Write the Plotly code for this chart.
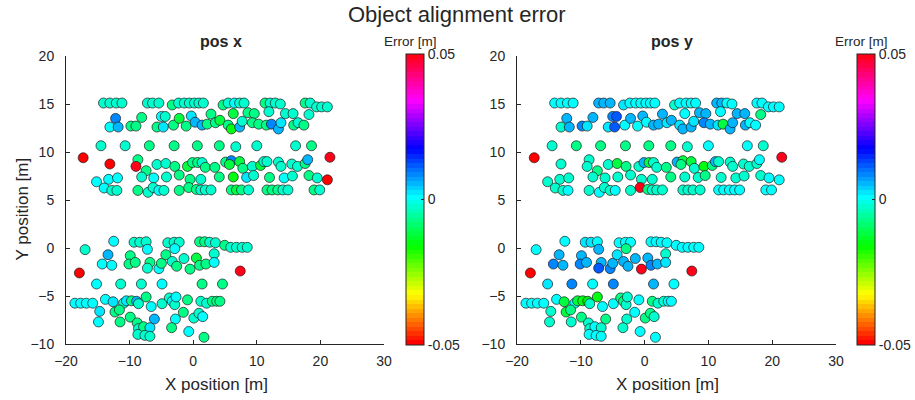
import colorsys
import plotly.graph_objects as go

# ---------------- data (metres) ----------------
# upper group of objects
x_upper = [
    -14.1, -13.1, -12.1, -11.2, -7.2, -6.4, -5.4, -3.3, -2.3, -1.4, -0.6, 0.2, 0.9, 1.6,
    4.7, 5.5, 6.5, 7.3, 8.0, 11.3, 12.1, 12.9, 13.7, 17.6, 18.4, 19.4, 20.2, 21.1,
    -12.2, -13.1, -11.8, -8.1, -9.8, -9.0, -5.7, -5.0, -4.4, -4.7, -3.1, -2.2, -1.1, -0.3,
    0.3, 1.4, 2.2, 2.8, 3.5, 4.2, 5.5, 6.0, 6.3, 7.3, 7.7, 8.6, 9.6, 9.3, 10.3, 11.5, 11.9,
    12.3, 13.4, 13.8, 14.5, 15.7, 15.8, 16.5, 17.4, 18.2,
    -14.5, -10.7, -6.9, -3.0, 0.65, 4.1, 6.7, 10.0, 16.1, 18.6, -17.3, 21.5,
    -13.1, -8.7, -9.0, -7.4, -5.7, -4.3, -2.9, -2.2, -0.9, -0.1, 0.7, 1.4, 1.9, 3.4, 5.1,
    6.0, 5.7, 7.3, 7.8, 9.3, 10.6, 11.1, 11.6, 13.4, 13.8, 15.5, 16.4, 17.6, 18.0,
    -15.2, -13.3, -11.9, -14.0, -12.8, -12.0, -8.1, -6.2, -4.2, -8.7, -7.1, -6.3, -5.4,
    -4.6, -2.2, -0.5, -0.7, 0.5, 1.2, 4.1, 6.3, 8.4, 9.5, 12.0, 14.3, 15.6, 18.2, 19.5, 21.1,
    1.2, 1.9, 2.8, 6.0, 6.8, 7.6, 8.7, 11.6, 12.4, 13.3, 14.1, 14.9, 19.0, 19.9,
]
y_upper = [
    15.1, 15.1, 15.1, 15.1, 15.1, 15.1, 15.1, 14.9, 15.1, 15.1, 15.1, 15.1, 15.1, 15.1,
    14.9, 15.1, 15.1, 15.1, 15.1, 15.1, 15.1, 15.1, 15.0, 15.1, 15.1, 14.7, 14.7, 14.7,
    13.5, 12.6, 12.6, 13.6, 12.7, 12.7, 12.6, 13.7, 13.7, 12.6, 12.8, 13.5, 12.7, 13.75,
    13.1, 12.8, 12.9, 13.95, 13.05, 13.3, 12.8, 12.4, 14.0, 12.6, 13.2, 14.1, 14.0, 13.05, 12.9, 12.8, 14.2,
    12.9, 12.4, 13.05, 14.0, 14.0, 12.8, 13.05, 12.8, 13.9,
    10.65, 10.65, 10.65, 10.65, 10.65, 10.65, 10.55, 10.65, 10.65, 10.65, 9.4, 9.45,
    8.75, 9.2, 8.5, 8.05, 8.7, 8.8, 8.5, 7.6, 8.5, 8.9, 8.9, 8.9, 8.4, 8.4, 8.95,
    9.1, 8.7, 9.0, 8.3, 8.5, 8.6, 9.0, 9.0, 8.95, 8.5, 8.75, 8.5, 8.8, 9.2,
    6.9, 7.15, 7.3, 6.25, 6.0, 6.0, 7.4, 7.3, 7.4, 6.0, 5.8, 6.3, 6.0,
    6.0, 6.0, 7.15, 6.3, 6.1, 7.15, 7.4, 7.4, 7.35, 7.55, 7.35, 7.3, 7.5, 7.55, 7.3, 7.1,
    6.05, 6.05, 6.05, 6.05, 6.05, 6.05, 6.05, 6.05, 6.05, 6.05, 6.05, 6.05, 6.05, 6.05,
]
err_x_upper = [
    -0.003, -0.003, -0.003, -0.003, -0.003, -0.003, -0.003, -0.007, -0.003, -0.003, -0.003, -0.003, -0.003, -0.003,
    -0.007, -0.003, 0.0, -0.003, -0.003, -0.007, -0.003, -0.003, -0.003, -0.007, -0.003, -0.003, -0.003, -0.003,
    0.008, 0.0, 0.0055, -0.007, -0.007, -0.007, -0.007, 0.0, -0.003, 0.002, -0.007, -0.011, -0.007, 0.002,
    0.0055, 0.0055, -0.007, -0.007, -0.007, -0.011, -0.007, -0.015, -0.011, 0.0055, -0.003, -0.007, -0.007, -0.007, -0.007, -0.007, -0.003,
    0.008, 0.0055, 0.002, -0.003, -0.003, -0.007, -0.003, -0.007, -0.003,
    -0.003, -0.003, -0.007, -0.007, -0.007, -0.007, -0.003, -0.003, -0.003, -0.007, -0.07, 0.07,
    -0.07, -0.007, 0.07, -0.007, -0.003, -0.003, -0.007, -0.007, -0.011, -0.007, -0.007, -0.003, -0.007, -0.007, -0.007,
    0.008, -0.011, -0.011, -0.007, -0.003, -0.011, -0.003, -0.003, -0.003, -0.003, -0.003, -0.003, -0.007, 0.0055,
    0.0, 0.0, 0.0, 0.0, -0.003, -0.003, -0.003, 0.0, -0.003, -0.007, -0.003, -0.003, 0.0,
    -0.003, -0.007, -0.007, -0.007, -0.007, -0.003, -0.007, -0.015, 0.002, -0.003, -0.007, 0.0, -0.003, -0.007, -0.003, -0.07,
    -0.003, -0.003, -0.003, -0.007, -0.011, -0.007, -0.003, -0.007, -0.007, -0.007, -0.003, -0.003, -0.007, -0.003,
]
err_y_upper = [
    0.0, 0.0, 0.0, 0.0, 0.0055, 0.0055, 0.0055, 0.002, 0.0, 0.0, 0.0, 0.0, 0.0, 0.0,
    -0.003, 0.0, 0.0, 0.0, 0.0, 0.0055, 0.0055, 0.0, 0.0, 0.0, 0.0, 0.0, 0.0, 0.0,
    0.0055, -0.003, 0.0055, 0.0055, 0.008, 0.002, 0.002, 0.008, 0.0115, 0.0115, 0.0, 0.0055, 0.0, 0.0055,
    0.0, 0.0055, 0.0055, 0.0055, 0.002, 0.0055, 0.002, 0.0055, 0.0, 0.0055, 0.002, 0.0055, 0.0055, 0.008, 0.0055, 0.002, 0.0,
    -0.011, 0.0055, 0.0055, 0.0055, 0.0055, 0.0055, 0.0, 0.0, -0.007,
    -0.003, -0.007, -0.007, -0.007, -0.007, -0.007, -0.003, 0.0, 0.0, -0.003, -0.07, 0.07,
    -0.003, -0.003, -0.003, -0.007, -0.003, -0.011, -0.007, -0.003, -0.003, 0.0055, -0.011, -0.003, -0.003, -0.007, 0.0055,
    -0.011, -0.007, -0.011, -0.003, -0.015, -0.007, 0.0055, -0.003, -0.003, -0.003, -0.003, -0.003, -0.003, 0.0,
    -0.003, -0.003, -0.003, -0.003, -0.003, 0.0, -0.003, -0.003, -0.003, -0.003, 0.0, -0.003, -0.003,
    0.0, -0.003, -0.003, 0.07, -0.007, -0.003, -0.007, -0.003, -0.003, -0.007, -0.003, -0.003, -0.003, -0.003, 0.0, 0.0,
    -0.003, -0.003, -0.003, -0.003, -0.003, -0.003, -0.003, 0.0, 0.0, 0.0, 0.0, 0.0, 0.0, 0.0,
]

# lower group of objects
x_lower = [
    -17.0, -12.5, -9.3, -8.4, -7.4, -7.2, -4.0, -3.0, -2.2, -2.9, 1.0, 1.8, 2.6, 3.5, 4.95, 5.9, 6.8, 7.7, 8.5, 3.3,
    -13.4, -14.3, -12.8, -9.9, -10.1, -9.1, -6.8, -7.2, -5.4, -5.0, -4.3, -3.3, -2.6, -1.45, -0.5, 0.5, 1.0, 2.0, 3.3, -17.9, 7.4,
    -15.2, -11.4, -8.15, -4.9, 1.4, 4.6,
    -18.6, -17.7, -16.8, -15.8, -13.8, -12.6, -10.95, -10.5, -9.7, -8.9, -7.4, -8.6, -4.9, -3.75, -3.3, -2.9, -2.7, -0.9, 1.2, 2.1, 3.0, 3.7, 4.2,
    -14.7, -12.3, -11.6, -6.6, -14.9, -11.5, -9.9, -8.8, -6.1, -2.8, -1.55, 0.1, 0.9, 1.5, -8.6, -7.8, -6.8, -8.7, -7.6, -6.8, -3.4, -0.7, 1.7,
]
y_lower = [
    -0.17, 0.7, 0.6, 0.6, 0.65, -0.14, 0.55, 0.6, 0.6, -0.07, 0.65, 0.65, 0.6, 0.55, 0.28, 0.07, 0.07, 0.07, 0.07, -0.6,
    -0.7, -1.67, -1.8, -0.8, -1.67, -1.5, -1.5, -2.1, -2.15, -1.6, -0.7, -1.4, -1.9, -1.1, -2.2, -1.04, -1.8, -1.67, -1.5, -2.6, -2.4,
    -3.75, -3.75, -3.75, -3.75, -3.75, -3.75,
    -5.75, -5.75, -5.75, -5.75, -5.35, -5.6, -5.75, -5.5, -5.5, -5.55, -5.1, -5.8, -5.8, -5.2, -5.55, -5.9, -5.1, -5.4, -5.55, -5.75, -5.55, -5.55, -5.55,
    -6.6, -6.67, -6.45, -6.1, -7.7, -7.7, -7.2, -7.8, -7.4, -7.4, -6.7, -7.3, -6.8, -7.15, -8.4, -8.2, -8.3, -9.0, -9.1, -9.2, -8.3, -8.7, -9.3,
]
err_x_lower = [
    -0.003, 0.0, -0.003, -0.003, -0.003, 0.0, -0.003, -0.003, -0.003, 0.0, -0.007, -0.007, -0.003, -0.003, -0.007, -0.003, -0.003, -0.003, -0.003, -0.003,
    0.0055, 0.0, 0.0, -0.007, -0.007, -0.007, -0.007, -0.003, 0.0, -0.007, -0.007, -0.003, -0.007, -0.003, -0.007, -0.011, -0.007, -0.007, 0.0, -0.07, 0.07,
    0.0, -0.003, -0.003, 0.0, -0.007, -0.007,
    0.0, 0.0, 0.0, 0.0, 0.0, 0.002, -0.003, 0.002, -0.007, 0.0055, -0.007, -0.003, -0.003, -0.003, 0.0, -0.003, 0.0, -0.007, -0.003, -0.003, -0.007, -0.007, -0.007,
    0.002, -0.007, -0.007, 0.0, 0.0, -0.007, -0.007, -0.007, 0.0055, 0.0, -0.007, -0.003, -0.003, 0.0, -0.003, -0.007, 0.002, -0.003, -0.003, -0.003, -0.007, 0.0, -0.007,
]
err_y_lower = [
    0.0, 0.0, 0.002, 0.002, 0.0, 0.0055, 0.0, 0.0, 0.0, -0.007, 0.0, 0.0, 0.0, 0.0, 0.0, 0.0, 0.0, 0.0, 0.0, -0.003,
    0.0055, 0.008, 0.0055, 0.0055, 0.008, 0.0055, 0.0055, 0.0115, 0.008, 0.0055, 0.002, 0.0055, 0.0055, 0.0055, 0.07, 0.0055, 0.008, 0.0055, 0.002, -0.07, 0.07,
    0.002, 0.008, 0.0, 0.008, 0.0055, 0.0,
    0.0, 0.0, 0.0, 0.0, 0.0, -0.011, 0.0, -0.011, -0.015, -0.015, -0.015, -0.003, 0.0, -0.007, -0.007, -0.003, -0.003, 0.0, -0.007, -0.003, -0.003, 0.0, 0.0,
    -0.003, -0.011, -0.007, 0.0, -0.003, -0.003, -0.007, -0.003, -0.007, -0.003, 0.0, -0.007, -0.007, -0.003, -0.003, 0.0, -0.003, 0.0, 0.0, 0.0, -0.003, 0.0, 0.0,
]

x_pos = x_upper + x_lower
y_pos = y_upper + y_lower
err_pos_x = err_x_upper + err_x_lower
err_pos_y = err_y_upper + err_y_lower

panel_titles = ["pos x", "pos y"]
x_ticks = [-20, -10, 0, 10, 20, 30]
y_ticks = [-10, -5, 0, 5, 10, 15, 20]
cbar_ticks = [-0.05, 0, 0.05]
cbar_labels = ["-0.05", "0", "0.05"]
c_min, c_max = -0.05, 0.05

# ---------------- style ----------------
W, H = 915, 400
FONT = "Liberation Sans, Arial, Helvetica, sans-serif"
TXT = "#262626"


def hsv_colorscale(n=64):
    cs = []
    for i in range(n):
        r, g, b = colorsys.hsv_to_rgb(i / n, 1, 1)
        col = f"rgb({round(r*255)},{round(g*255)},{round(b*255)})"
        cs.append([i / n, col])
        cs.append([(i + 1) / n, col])
    return cs


CS = hsv_colorscale()

# pixel geometry of the panels
ax_px = [(66, 384), (517, 836)]
cb_px = [406, 857]
y_top, y_bot = 56, 344

fig = go.Figure()
for k, errs in enumerate([err_pos_x, err_pos_y]):
    xa = "x" if k == 0 else "x2"
    ya = "y" if k == 0 else "y2"
    fig.add_trace(go.Scatter(
        x=x_pos, y=y_pos, mode="markers", xaxis=xa, yaxis=ya,
        marker=dict(
            size=10, color=errs, colorscale=CS, cmin=c_min, cmax=c_max,
            line=dict(color="#1a1a1a", width=0.7),
            showscale=True,
            colorbar=dict(
                x=cb_px[k] / W, xanchor="left", xpad=0, ypad=0,
                y=1 - (54 + 345) / 2 / H, yanchor="middle",
                len=291, lenmode="pixels", thickness=18,
                outlinewidth=1, outlinecolor=TXT,
                tickvals=cbar_ticks, ticktext=cbar_labels,
                ticks="inside", ticklen=3, tickcolor=TXT,
                tickfont=dict(family=FONT, size=14, color=TXT),
            ),
        ),
        showlegend=False, hoverinfo="skip",
    ))

axis_common = dict(
    showgrid=False, zeroline=False, showline=True, linecolor=TXT, linewidth=1,
    ticks="inside", ticklen=4, tickcolor=TXT, mirror=False,
    tickfont=dict(family=FONT, size=14, color=TXT),
)
ydom = [1 - y_bot / H, 1 - y_top / H]
layout = dict(
    width=W, height=H, margin=dict(l=0, r=0, t=0, b=0, autoexpand=False),
    paper_bgcolor="white", plot_bgcolor="white",
    font=dict(family=FONT, color=TXT),
)
for k in range(2):
    sfx = "" if k == 0 else "2"
    layout["xaxis" + sfx] = dict(axis_common, domain=[ax_px[k][0] / W, ax_px[k][1] / W],
                                 range=[-20, 30], tickvals=x_ticks, anchor="y" + sfx,
                                 ticklabelstandoff=4, automargin=False)
    layout["yaxis" + sfx] = dict(axis_common, domain=ydom, range=[-10, 20],
                                 tickvals=y_ticks, anchor="x" + sfx, ticklabelstandoff=8,
                                 automargin=False)
fig.update_layout(**layout)

ann = [
    dict(text="Object alignment error", x=457 / W, y=1 - 14 / H, size=22, bold=False),
    dict(text="pos x", x=221 / W, y=1 - 42 / H, size=16, bold=True),
    dict(text="pos y", x=672 / W, y=1 - 42 / H, size=16, bold=True),
    dict(text="Error [m]", x=410 / W, y=1 - 41 / H, size=13.5, bold=False),
    dict(text="Error [m]", x=861 / W, y=1 - 41 / H, size=13.5, bold=False),
    dict(text="X position [m]", x=216 / W, y=1 - 384 / H, size=17, bold=False),
    dict(text="X position [m]", x=667 / W, y=1 - 384 / H, size=17, bold=False),
]
for a in ann:
    t = f"<b>{a['text']}</b>" if a["bold"] else a["text"]
    fig.add_annotation(text=t, x=a["x"], y=a["y"], xref="paper", yref="paper",
                       xanchor="center", yanchor="middle", showarrow=False,
                       font=dict(family=FONT, size=a["size"], color=TXT))
fig.add_annotation(text="Y position [m]", x=21.5 / W, y=1 - 209 / H, xref="paper", yref="paper",
                   xanchor="center", yanchor="middle", showarrow=False, textangle=-90,
                   font=dict(family=FONT, size=17, color=TXT))

fig.write_html("out.html")
